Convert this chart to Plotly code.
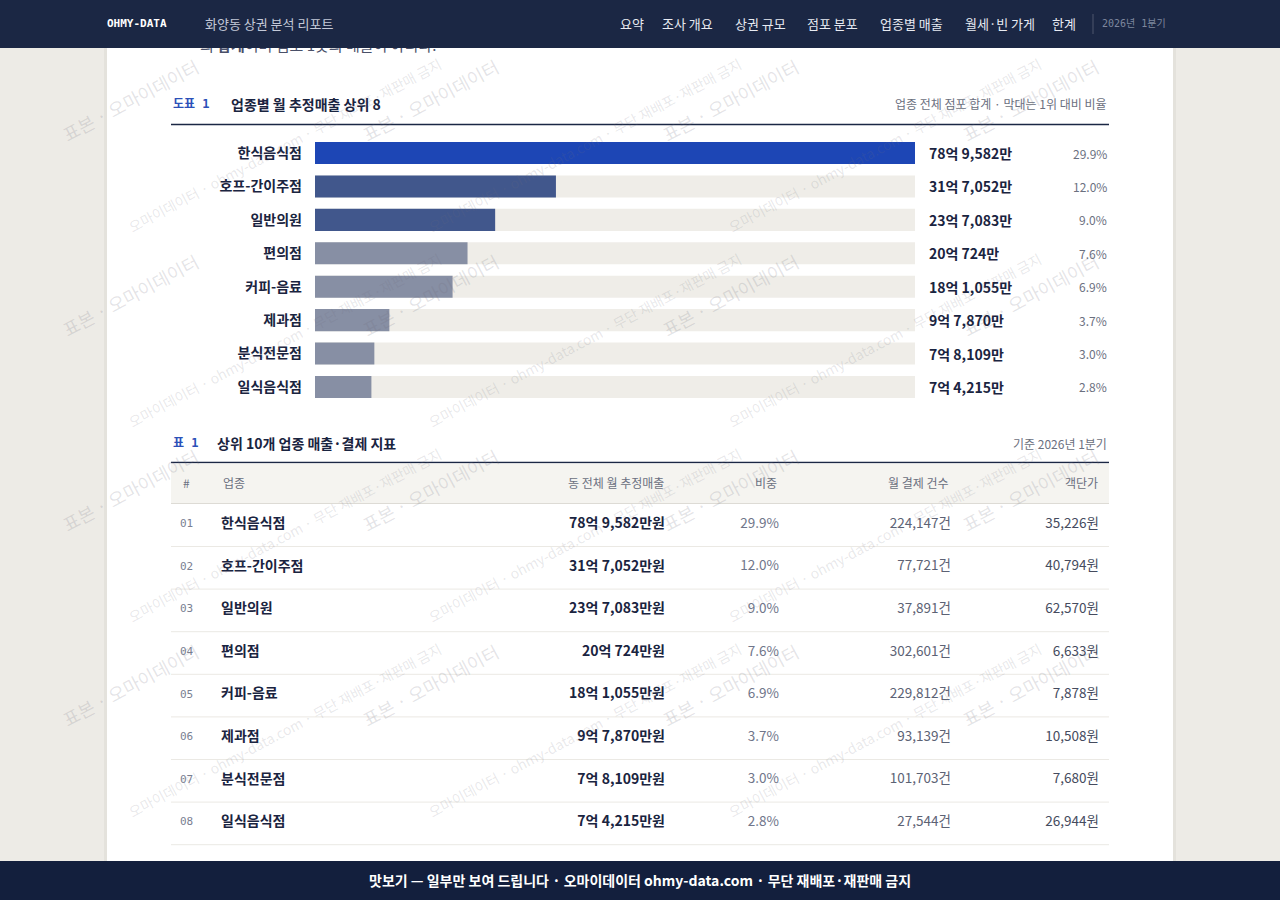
import plotly.graph_objects as go

W, H = 1280, 900

# ---- data ----
cats = ["한식음식점", "호프-간이주점", "일반의원", "편의점", "커피-음료", "제과점", "분식전문점", "일식음식점"]
sales_man = [789582, 317052, 237083, 200724, 181055, 97870, 78109, 74215]   # 만원
share_pct = [29.9, 12.0, 9.0, 7.6, 6.9, 3.7, 3.0, 2.8]
pay_count = [224147, 77721, 37891, 302601, 229812, 93139, 101703, 27544]
unit_price = [35226, 40794, 62570, 6633, 7878, 10508, 7680, 26944]

nav_items = ["요약", "조사 개요", "상권 규모", "점포 분포", "업종별 매출", "월세·빈 가게", "한계"]
nav_x = [618, 660, 733, 805, 878, 963, 1050]

KR = "Noto Sans CJK KR"
MONO = "DejaVu Sans Mono, Noto Sans CJK KR"
NAVY = "#1a2440"
GRAY = "#6b7080"


def px(x):
    return x / W


def py(y):
    return 1 - y / H


def won(v):
    eok, man = divmod(v, 10000)
    return f"{eok}억 {man:,}만"


bar_colors = ["#1d46b5"] + ["#41578c"] * 2 + ["#878fa4"] * 5

fig = go.Figure()

# track behind each bar
fig.add_trace(go.Bar(
    y=cats, x=[max(sales_man)] * len(cats), orientation="h",
    marker=dict(color="#efede8", line=dict(width=0)), width=0.66,
    hoverinfo="skip", showlegend=False))
fig.add_trace(go.Bar(
    y=cats, x=sales_man, orientation="h",
    marker=dict(color=bar_colors, line=dict(width=0)), width=0.66,
    showlegend=False))

# ---- table as text columns on a pixel overlay axis ----
row_y0, row_h = 524.5, 42.6
rows_y = [row_y0 + i * row_h for i in range(len(cats))]


def col(xpos, texts, pos, size, color, family=KR, weight=400):
    fig.add_trace(go.Scatter(
        x=[xpos] * len(texts), y=rows_y, text=texts, mode="text",
        textposition=pos, xaxis="x2", yaxis="y2", hoverinfo="skip",
        textfont=dict(family=family, size=size, color=color, weight=weight),
        showlegend=False))


col(180, [f"{i + 1:02d}" for i in range(len(cats))], "middle right", 11, "#7a8092", family=MONO)
col(221, cats, "middle right", 14, NAVY, weight=700)
col(665, [won(v) + "원" for v in sales_man], "middle left", 14, NAVY, weight=700)
col(779, [f"{s:.1f}%" for s in share_pct], "middle left", 13.5, "#70768a")
col(951, [f"{c:,}건" for c in pay_count], "middle left", 13.5, "#5c6274")
col(1099, [f"{p:,}원" for p in unit_price], "middle left", 13.5, "#454b5e")

# partially hidden intro sentence under the nav bar
fig.add_trace(go.Scatter(
    x=[200], y=[47], text=["의 <b>합계</b>이며 점포 1곳의 매출이 아니다."], mode="text",
    textposition="middle right", xaxis="x2", yaxis="y2", hoverinfo="skip",
    textfont=dict(family=KR, size=15, color="#4a5068"), showlegend=False))

# ---- shapes ----
shapes = [
    dict(type="rect", xref="paper", yref="paper", x0=0, x1=1, y0=0, y1=1,
         fillcolor="#edebe6", line_width=0, layer="below"),
    dict(type="rect", xref="paper", yref="paper", x0=px(104), x1=px(1176), y0=0, y1=1,
         fillcolor="#e4e2dc", line_width=0, layer="below"),
    dict(type="rect", xref="paper", yref="paper", x0=px(107), x1=px(1173), y0=0, y1=1,
         fillcolor="#ffffff", line_width=0, layer="below"),
    dict(type="line", xref="paper", yref="paper", x0=px(171), x1=px(1109), y0=py(124.5), y1=py(124.5),
         line=dict(color="#1b2744", width=1.5), layer="below"),
    dict(type="line", xref="paper", yref="paper", x0=px(171), x1=px(1109), y0=py(462.5), y1=py(462.5),
         line=dict(color="#1b2744", width=1.5), layer="below"),
    dict(type="rect", xref="paper", yref="paper", x0=px(171), x1=px(1109), y0=py(503), y1=py(463.5),
         fillcolor="#f5f4f0", line_width=0, layer="below"),
    dict(type="line", xref="paper", yref="paper", x0=px(171), x1=px(1109), y0=py(503.5), y1=py(503.5),
         line=dict(color="#dddbd5", width=1), layer="below"),
]
for i in range(len(cats) + 1):
    yy = 546.5 + i * row_h
    shapes.append(dict(type="line", xref="paper", yref="paper", x0=px(171), x1=px(1109),
                       y0=py(yy), y1=py(yy), line=dict(color="#ebe9e4", width=1), layer="below"))
# nav and footer bars on top of content
shapes += [
    dict(type="rect", xref="paper", yref="paper", x0=0, x1=1, y0=py(48), y1=1,
         fillcolor="#1b2744", line_width=0, layer="above"),
    dict(type="line", xref="paper", yref="paper", x0=px(1093), x1=px(1093), y0=py(34), y1=py(14),
         line=dict(color="rgba(255,255,255,0.22)", width=1), layer="above"),
    dict(type="rect", xref="paper", yref="paper", x0=0, x1=1, y0=0, y1=py(861),
         fillcolor="#131f3d", line_width=0, layer="above"),
]

# ---- annotations ----
ann = []


def text(x, y, s, size, color, anchor="left", family=KR, weight=400):
    ann.append(dict(x=px(x), y=py(y), xref="paper", yref="paper", text=s, showarrow=False,
                    xanchor=anchor, yanchor="middle",
                    font=dict(family=family, size=size, color=color, weight=weight)))


# watermarks
for j in range(4):
    for i in range(4):
        ann.append(dict(x=px(130 + 300 * i), y=py(100 + 195 * j), xref="paper", yref="paper",
                        xanchor="center", yanchor="middle",
                        text="표본 · 오마이데이터", showarrow=False, textangle=-28,
                        font=dict(family=KR, size=18, color="rgba(110,110,125,0.19)")))
        if i < 3 and 145 + 195 * j < 800:
            ann.append(dict(x=px(285 + 300 * i), y=py(145 + 195 * j), xref="paper", yref="paper",
                            xanchor="center", yanchor="middle",
                            text="오마이데이터 · ohmy-data.com · 무단 재배포·재판매 금지", showarrow=False,
                            textangle=-28,
                            font=dict(family=KR, size=14, color="rgba(110,110,125,0.16)")))

# bar value labels
for c, v, s in zip(cats, sales_man, share_pct):
    ann.append(dict(x=px(927), y=c, xref="paper", yref="y", text=won(v), showarrow=False,
                    xanchor="left", font=dict(family=KR, size=14, color=NAVY, weight=700)))
    ann.append(dict(x=px(1109), y=c, xref="paper", yref="y", text=f"{s:.1f}%", showarrow=False,
                    xanchor="right", font=dict(family=KR, size=12, color=GRAY)))

# figure / table headers
text(171, 104, "도표 1", 12, "#2b50b8", family=MONO, weight=700)
text(229, 104, "업종별 월 추정매출 상위 8", 14, NAVY, weight=700)
text(1109, 104, "업종 전체 점포 합계 · 막대는 1위 대비 비율", 12, GRAY, anchor="right")
text(171, 443, "표 1", 12, "#2b50b8", family=MONO, weight=700)
text(215, 443, "상위 10개 업종 매출·결제 지표", 14, NAVY, weight=700)
text(1109, 443, "기준 2026년 1분기", 12, GRAY, anchor="right")

hdr = [(181, "#", "left"), (221, "업종", "left"), (666, "동 전체 월 추정매출", "right"),
       (779, "비중", "right"), (951, "월 결제 건수", "right"), (1100, "객단가", "right")]
for x, s, a in hdr:
    text(x, 483, s, 12, GRAY, anchor=a)

# nav bar
text(105, 23, "OHMY-DATA", 11, "#ffffff", family=MONO, weight=700)
text(203, 23, "화양동 상권 분석 리포트", 13, "#c3c9d8")
for x, s in zip(nav_x, nav_items):
    text(x, 23, s, 13, "#e8ebf2")
text(1100, 23, "2026년 1분기", 10, "#7e879e", family=MONO)

# footer
text(640, 880, "맛보기 — 일부만 보여 드립니다 · 오마이데이터 ohmy-data.com · 무단 재배포·재판매 금지",
     14, "#ffffff", anchor="center", weight=700)

fig.update_layout(
    width=W, height=H, margin=dict(l=0, r=0, t=0, b=0),
    paper_bgcolor="#edebe6", plot_bgcolor="rgba(0,0,0,0)",
    barmode="overlay", bargap=0.34,
    shapes=shapes, annotations=ann,
    xaxis=dict(domain=[px(315), px(915)], range=[0, max(sales_man)], visible=False, fixedrange=True),
    yaxis=dict(domain=[py(403.7), py(136.3)], autorange="reversed", showgrid=False, zeroline=False,
               showline=False, ticks="", ticklabelstandoff=12,
               tickfont=dict(family=KR, size=14, color=NAVY, weight=700)),
    xaxis2=dict(domain=[0, 1], range=[0, W], visible=False, anchor="y2", fixedrange=True),
    yaxis2=dict(domain=[0, 1], range=[H, 0], visible=False, anchor="x2", fixedrange=True),
)

fig.write_html("out.html", config={"displayModeBar": False},
               post_script="document.body.style.margin='0';")
